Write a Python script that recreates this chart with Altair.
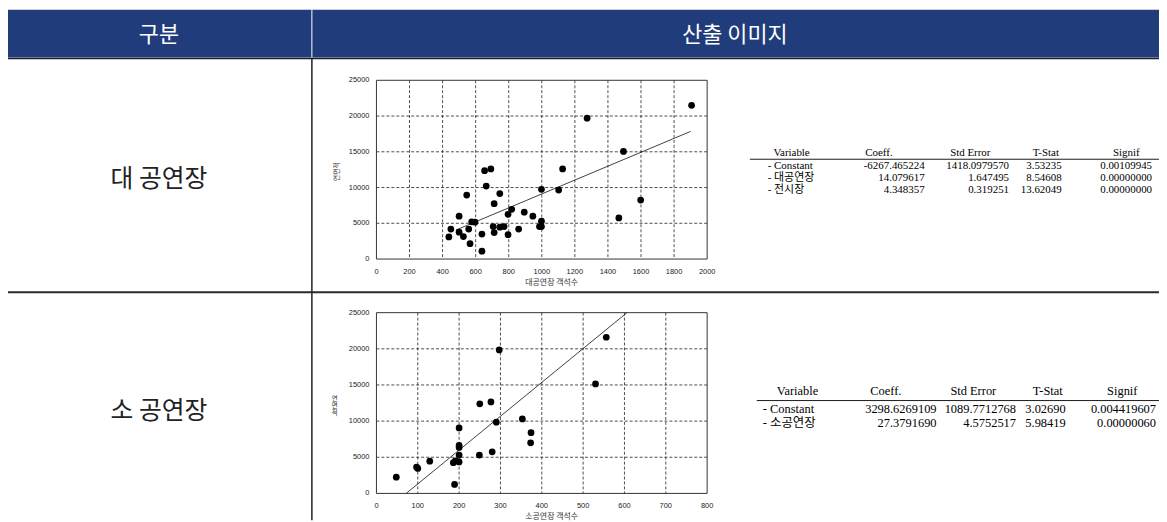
import altair as alt
import pandas as pd

# ---------------- data ----------------
header_labels = ["구분", "산출 이미지"]
row_labels = ["대 공연장", "소 공연장"]

# scatter 1 : 대공연장 객석수 vs 연면적
big_x = [438, 450, 500, 500, 526, 546, 558, 566, 576, 596, 638, 638, 654, 692, 664, 712, 706, 712, 746,
         746, 772, 796, 796, 818, 860, 894, 946, 998, 998, 986, 998, 1102, 1126, 1274, 1466, 1494, 1598, 1906]
big_y = [3100, 4200, 6000, 3750, 3150, 8950, 4200, 2150, 5200, 5150, 3500, 1100, 12350, 12600, 10200, 7750,
         4550, 3700, 9150, 4450, 4550, 6250, 3400, 6950, 4200, 6550, 6000, 9750, 5300, 4550, 4550, 9650,
         12600, 19700, 5750, 15050, 8250, 21500]
big_line_x = [480, 1900]
big_line_y = [4050, 17850]
big_xticks = [0, 200, 400, 600, 800, 1000, 1200, 1400, 1600, 1800, 2000]

# scatter 2 : 소공연장 객석수 vs 연면적
small_x = [48, 97, 100, 129, 186, 191, 189, 200, 200, 200, 200, 200, 250, 249, 277, 280, 290, 297, 353,
           374, 373, 530, 556]
small_y = [2250, 3650, 3450, 4450, 4250, 4500, 1250, 9050, 6650, 6350, 5300, 4350, 12400, 5300, 12650,
           5750, 9850, 19850, 10300, 8400, 7000, 15150, 21600]
small_line_x = [72, 606]
small_line_y = [0, 25000]
small_xticks = [0, 100, 200, 300, 400, 500, 600, 700, 800]

yticks = [0, 5000, 10000, 15000, 20000, 25000]

t1_header = ["Variable", "Coeff.", "Std Error", "T-Stat", "Signif"]
t1_vars = ["- Constant", "- 대공연장", "- 전시장"]
t1_coeff = ["-6267.465224", "14.079617", "4.348357"]
t1_stderr = ["1418.0979570", "1.647495", "0.319251"]
t1_tstat = ["3.53235", "8.54608", "13.62049"]
t1_signif = ["0.00109945", "0.00000000", "0.00000000"]

t2_header = ["Variable", "Coeff.", "Std Error", "T-Stat", "Signif"]
t2_vars = ["- Constant", "- 소공연장"]
t2_coeff = ["3298.6269109", "27.3791690"]
t2_stderr = ["1089.7712768", "4.5752517"]
t2_tstat = ["3.02690", "5.98419"]
t2_signif = ["0.004419607", "0.00000060"]

# ---------------- layout ----------------
W, H = 1159, 514
NAVY = "#213c7b"
KFONT = "Noto Sans CJK KR"
SERIF = "Liberation Serif, Noto Sans CJK KR"

one = pd.DataFrame({"a": [0]})
layers = []


def vrule(x, y, y2, color, w):
    return alt.Chart(one).mark_rule(color=color, strokeWidth=w).encode(
        x=alt.value(x), y=alt.value(y), y2=alt.value(y2))


def hrule(y, x, x2, color, w):
    return alt.Chart(one).mark_rule(color=color, strokeWidth=w).encode(
        y=alt.value(y), x=alt.value(x), x2=alt.value(x2))


# header band
layers.append(alt.Chart(one).mark_rect(color=NAVY).encode(
    x=alt.value(0), x2=alt.value(W), y=alt.value(0), y2=alt.value(48)))
layers.append(vrule(306, 0, 48, "white", 1))
layers.append(hrule(49, 0, W, "#1b1b2b", 1.6))
layers.append(vrule(306, 49, H, "#111111", 1.4))
layers.append(hrule(284.5, 0, W, "#2a2a2a", 2))

hdr = pd.DataFrame({"t": header_labels, "i": [0, 1]})
for i, cx in enumerate([152, 732]):
    layers.append(alt.Chart(hdr).transform_filter(alt.datum.i == i).mark_text(
        font=KFONT, fontSize=22, color="white", align="center", baseline="middle").encode(
        x=alt.value(cx), y=alt.value(25), text="t:N"))

rl = pd.DataFrame({"t": row_labels, "i": [0, 1]})
for i, cy in enumerate([170, 404]):
    layers.append(alt.Chart(rl).transform_filter(alt.datum.i == i).mark_text(
        font=KFONT, fontSize=25, color="#222222", align="center", baseline="middle").encode(
        x=alt.value(152), y=alt.value(cy), text="t:N"))


def scatter(xs, ys, lx, ly, xticks, xmax, xtitle, top, bottom, left=371, right=704, stacked=False):
    xsc = alt.Scale(domain=[0, xmax], range=[left, right], nice=False, zero=False)
    ysc = alt.Scale(domain=[0, 25000], range=[bottom, top], nice=False, zero=False)
    out = []
    # grid
    gx = pd.DataFrame({"v": xticks[1:-1]})
    gy = pd.DataFrame({"v": yticks[1:-1]})
    out.append(alt.Chart(gx).mark_rule(color="#222222", strokeWidth=0.8, strokeDash=[3, 2]).encode(
        x=alt.X("v:Q", scale=xsc, axis=None), y=alt.value(top), y2=alt.value(bottom)))
    out.append(alt.Chart(gy).mark_rule(color="#222222", strokeWidth=0.8, strokeDash=[3, 2]).encode(
        y=alt.Y("v:Q", scale=ysc, axis=None), x=alt.value(left), x2=alt.value(right)))
    # frame
    out.append(alt.Chart(one).mark_rect(fillOpacity=0, stroke="#333333", strokeWidth=1).encode(
        x=alt.value(left), x2=alt.value(right), y=alt.value(top), y2=alt.value(bottom)))
    # tick labels
    tx = pd.DataFrame({"v": xticks, "s": [str(v) for v in xticks]})
    ty = pd.DataFrame({"v": yticks, "s": [str(v) for v in yticks]})
    out.append(alt.Chart(tx).mark_text(font="Liberation Sans", fontSize=7.5, color="#222222",
                                       align="center", baseline="middle").encode(
        x=alt.X("v:Q", scale=xsc, axis=None), y=alt.value(bottom + 13), text="s:N"))
    out.append(alt.Chart(ty).mark_text(font="Liberation Sans", fontSize=7.5, color="#222222",
                                       align="right", baseline="middle").encode(
        y=alt.Y("v:Q", scale=ysc, axis=None), x=alt.value(left - 7), text="s:N"))
    # titles
    tt = pd.DataFrame({"t": [xtitle]})
    out.append(alt.Chart(tt).mark_text(font=KFONT, fontSize=8, color="#333333",
                                       align="center", baseline="middle").encode(
        x=alt.value((left + right) / 2 + 10), y=alt.value(bottom + 24), text="t:N"))
    if stacked:
        yt = alt.Chart(one).mark_text(font=KFONT, fontSize=6.5, color="#333333", align="center",
                                      baseline="middle", lineHeight=7,
                                      text=["연", "면", "적"]).encode(
            x=alt.value(left - 42), y=alt.value((top + bottom) / 2 - 4))
    else:
        yt = alt.Chart(one).mark_text(font=KFONT, fontSize=7, color="#333333", align="center",
                                      baseline="middle", angle=270, text="연면적").encode(
            x=alt.value(left - 40), y=alt.value((top + bottom) / 2 + 2))
    out.append(yt)
    # regression line
    ld = pd.DataFrame({"x": lx, "y": ly})
    out.append(alt.Chart(ld).mark_line(color="#111111", strokeWidth=0.8).encode(
        x=alt.X("x:Q", scale=xsc, axis=None), y=alt.Y("y:Q", scale=ysc, axis=None)))
    # points
    pdf = pd.DataFrame({"x": xs, "y": ys})
    out.append(alt.Chart(pdf).mark_circle(size=46, color="black", opacity=1).encode(
        x=alt.X("x:Q", scale=xsc, axis=None), y=alt.Y("y:Q", scale=ysc, axis=None)))
    return out


layers += scatter(big_x, big_y, big_line_x, big_line_y, big_xticks, 2000, "대공연장 객석수", 71, 251)
layers += scatter(small_x, small_y, small_line_x, small_line_y, small_xticks, 800, "소공연장 객석수",
                  305, 487, stacked=True)


def table(header, cols, hx, col_x, aligns, hy, line_y, line_x0, row_y0, row_dy, fs):
    out = []
    hd = pd.DataFrame({"t": header, "i": list(range(len(header)))})
    for i, cx in enumerate(hx):
        out.append(alt.Chart(hd).transform_filter(alt.datum.i == i).mark_text(
            font=SERIF, fontSize=fs, color="black", align="center", baseline="middle").encode(
            x=alt.value(cx), y=alt.value(hy), text="t:N"))
    out.append(hrule(line_y, line_x0, W, "black", 0.9))
    n = len(cols[0])
    ysc = alt.Scale(domain=[0, n - 1], range=[row_y0, row_y0 + (n - 1) * row_dy], nice=False, zero=False)
    for vals, cx, al in zip(cols, col_x, aligns):
        df = pd.DataFrame({"t": vals, "r": list(range(n))})
        out.append(alt.Chart(df).mark_text(font=SERIF, fontSize=fs, color="black", align=al,
                                           baseline="middle").encode(
            x=alt.value(cx), y=alt.Y("r:Q", scale=ysc, axis=None), text="t:N"))
    return out


layers += table(t1_header, [t1_vars, t1_coeff, t1_stderr, t1_tstat, t1_signif],
                [789, 877, 969, 1045, 1126], [765, 923, 1008, 1061, 1152],
                ["left", "right", "right", "right", "right"],
                144, 150.5, 747, 157, 12, 11)
layers += table(t2_header, [t2_vars, t2_coeff, t2_stderr, t2_tstat, t2_signif],
                [795, 884, 972, 1047, 1122], [760, 935, 1015, 1065, 1156],
                ["left", "right", "right", "right", "right"],
                384, 393.5, 754, 402.5, 14, 12.5)

chart = alt.layer(*layers).resolve_scale(x="independent", y="independent").properties(
    width=W, height=H, padding=0, autosize="none", background="white"
).configure_view(stroke=None)

chart.save("out.html", embed_options={"renderer": "svg", "actions": False})
